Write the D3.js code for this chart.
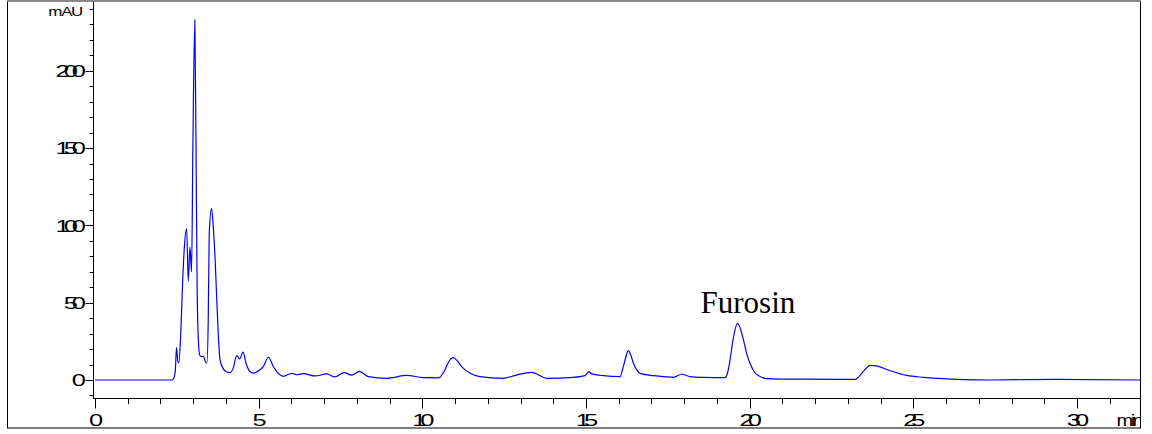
<!DOCTYPE html>
<html>
<head>
<meta charset="utf-8">
<script src="https://cdn.jsdelivr.net/npm/d3@7"></script>
<style>
  html, body { margin: 0; padding: 0; background: #fff; }
  svg { display: block; }
</style>
</head>
<body>
<svg id="chart" width="1152" height="434"></svg>
<script>
// Retention time (min) and detector signal (mAU) of the chromatogram trace
const timeMin = [
  0, 2.35, 2.40, 2.45, 2.49, 2.53, 2.56, 2.62, 2.68, 2.73, 2.80, 2.85, 2.90, 2.95, 2.99,
  3.05, 3.09, 3.12, 3.16, 3.20, 3.26, 3.31, 3.37, 3.42, 3.46, 3.49, 3.56, 3.61, 3.67, 3.72,
  3.77, 3.82, 3.90, 3.97, 4.12, 4.22, 4.33, 4.42, 4.52, 4.63, 4.74, 4.86, 5.03, 5.14, 5.30,
  5.45, 5.60, 5.75, 6.01, 6.16, 6.37, 6.72, 7.08, 7.33, 7.61, 7.84, 8.08, 8.35, 8.91, 9.52,
  10.03, 10.50, 10.69, 10.80, 10.95, 11.08, 11.20, 11.46, 11.76, 12.47, 12.88, 13.34, 13.80,
  14.61, 14.97, 15.09, 15.15, 15.53, 16.04, 16.14, 16.22, 16.29, 16.37, 16.45, 16.55, 16.65,
  17.06, 17.37, 17.67, 17.93, 18.18, 18.59, 19.25, 19.33, 19.40, 19.50, 19.63, 19.72, 19.81,
  19.91, 20.01, 20.15, 20.32, 20.52, 21.54, 22.76, 23.22, 23.47, 23.68, 23.88, 24.29, 24.80,
  25.31, 26.33, 27.35, 29.38, 31.93
];
const signalMAU = [
  0, 0, 0.8, 5, 21, 12, 11, 30, 65, 86, 98, 64, 86, 70, 150,
  233, 140, 60, 25, 16, 15, 15.5, 12, 11, 40, 95, 111, 100, 78, 52,
  28, 13, 8, 6, 4.7, 7.5, 15.8, 13.6, 18, 9.7, 5.4, 4.5, 6.5, 8.6, 14.7,
  8.6, 4.3, 2.4, 4.3, 3.4, 4.1, 2.6, 3.9, 2.0, 4.7, 3.2, 5.6, 2.2, 1.1, 3.0,
  1.5, 1.4, 6.5, 11.5, 14.4, 12, 8.6, 4.3, 2.2, 1.1, 3.2, 4.9, 1.1,
  1.7, 2.8, 5.4, 4.3, 2.8, 2.2, 8.6, 15, 19, 16, 10.8, 6.5, 4.3,
  2.8, 2.2, 1.7, 3.7, 2.2, 1.7, 1.5, 5, 12.9, 27, 36.6, 33, 25.9,
  17, 10.8, 5, 2.2, 0.9, 0.5, 0.4, 0.4, 5.4, 9.5, 9.1, 6, 3,
  1.7, 0.4, 0, 0.4, 0
];

// Axis ticks
const xMajorTicks = [0, 5, 10, 15, 20, 25, 30];
const xMinorTicks = d3.range(0, 32, 1);
const yMajorTicks = [0, 50, 100, 150, 200];
const yMinorTicks = d3.range(-10, 250, 10);
const yUnitLabel = "mAU";
const xUnitLabel = "min";

// Annotated peak
const peakName = "Furosin";
const peakTime = 19.63;
const peakSignal = 36.6;

const svg = d3.select("#chart");

const frame = { left: 7, top: 1, right: 1140, bottom: 428 };

const x = d3.scaleLinear().domain([0, 31.925]).range([95, 1140]);
const y = d3.scaleLinear().domain([-12.3, 245.8]).range([399, 0]);

svg.append("defs").append("clipPath").attr("id", "frameClip")
  .append("rect")
  .attr("x", frame.left).attr("y", frame.top)
  .attr("width", frame.right - frame.left).attr("height", frame.bottom - frame.top);

const root = svg.append("g").attr("clip-path", "url(#frameClip)");

// Wide, tightly packed instrument-style lettering
const SX = 1.5;
function stretchedText(g, txt, px, py, anchor, size, sx, ls) {
  return g.append("text")
    .attr("transform", `translate(${px},${py}) scale(${sx},1)`)
    .attr("text-anchor", anchor)
    .attr("font-family", "Liberation Sans, Arial, sans-serif")
    .attr("font-size", size)
    .style("letter-spacing", ls + "px")
    .attr("fill", "#000")
    .text(txt);
}

const axisX0 = 93.5;
const axisY0 = 398.5;

// Y axis
const yAxis = root.append("g");
yAxis.append("line")
  .attr("x1", axisX0).attr("x2", axisX0)
  .attr("y1", 0).attr("y2", axisY0 + 0.5)
  .attr("stroke", "#000").attr("stroke-width", 1);
yAxis.selectAll("line.minor").data(yMinorTicks.filter(v => !yMajorTicks.includes(v)))
  .join("line").attr("class", "minor")
  .attr("x1", axisX0 - 4).attr("x2", axisX0)
  .attr("y1", d => Math.round(y(d)) + 0.5).attr("y2", d => Math.round(y(d)) + 0.5)
  .attr("stroke", "#000");
yAxis.selectAll("line.major").data(yMajorTicks)
  .join("line").attr("class", "major")
  .attr("x1", axisX0 - 8).attr("x2", axisX0)
  .attr("y1", d => Math.round(y(d)) + 0.5).attr("y2", d => Math.round(y(d)) + 0.5)
  .attr("stroke", "#000");
yMajorTicks.forEach(v => {
  stretchedText(yAxis, String(v), 80, y(v) + 6.2, "end", 17, SX, -4);
});
stretchedText(yAxis, yUnitLabel, 82, 15.7, "end", 13, 1.3, -1);

// X axis
const xAxis = root.append("g");
xAxis.append("line")
  .attr("x1", axisX0).attr("x2", frame.right)
  .attr("y1", axisY0).attr("y2", axisY0)
  .attr("stroke", "#000");
xAxis.selectAll("line.minor").data(xMinorTicks.filter(v => !xMajorTicks.includes(v)))
  .join("line").attr("class", "minor")
  .attr("x1", d => Math.round(x(d)) + 0.5).attr("x2", d => Math.round(x(d)) + 0.5)
  .attr("y1", axisY0).attr("y2", axisY0 + 5.5)
  .attr("stroke", "#000");
xAxis.selectAll("line.major").data(xMajorTicks)
  .join("line").attr("class", "major")
  .attr("x1", d => Math.round(x(d)) + 0.5).attr("x2", d => Math.round(x(d)) + 0.5)
  .attr("y1", axisY0).attr("y2", axisY0 + 10)
  .attr("stroke", "#000");
xMajorTicks.forEach(v => {
  stretchedText(xAxis, String(v), x(v) - 2, 425.5, "middle", 17, SX, -4);
});
stretchedText(xAxis, xUnitLabel, 1116.5, 425.5, "start", 16, 1.25, -2);

// Chromatogram trace
const pts = timeMin.map((t, i) => [t, signalMAU[i]]);
const line = d3.line()
  .x(d => x(d[0]))
  .y(d => y(d[1]))
  .curve(d3.curveMonotoneX);
root.append("path")
  .datum(pts)
  .attr("d", line)
  .attr("fill", "none")
  .attr("stroke", "#0000ff")
  .attr("stroke-width", 1.2)
  .attr("stroke-linejoin", "round");

// Peak annotation
root.append("text")
  .attr("x", x(peakTime) - 37)
  .attr("y", y(peakSignal) - 10.5)
  .attr("font-family", "Liberation Serif, Times New Roman, serif")
  .attr("font-size", 31)
  .attr("fill", "#000")
  .text(peakName);

// Outer frame
svg.append("rect")
  .attr("x", frame.left + 0.5).attr("y", frame.top)
  .attr("width", frame.right - frame.left).attr("height", frame.bottom - frame.top)
  .attr("fill", "none").attr("stroke", "#000").attr("stroke-width", 1);
svg.append("line")
  .attr("x1", frame.left).attr("x2", frame.right + 1)
  .attr("y1", 1).attr("y2", 1)
  .attr("stroke", "#888").attr("stroke-width", 2);
</script>
</body>
</html>
